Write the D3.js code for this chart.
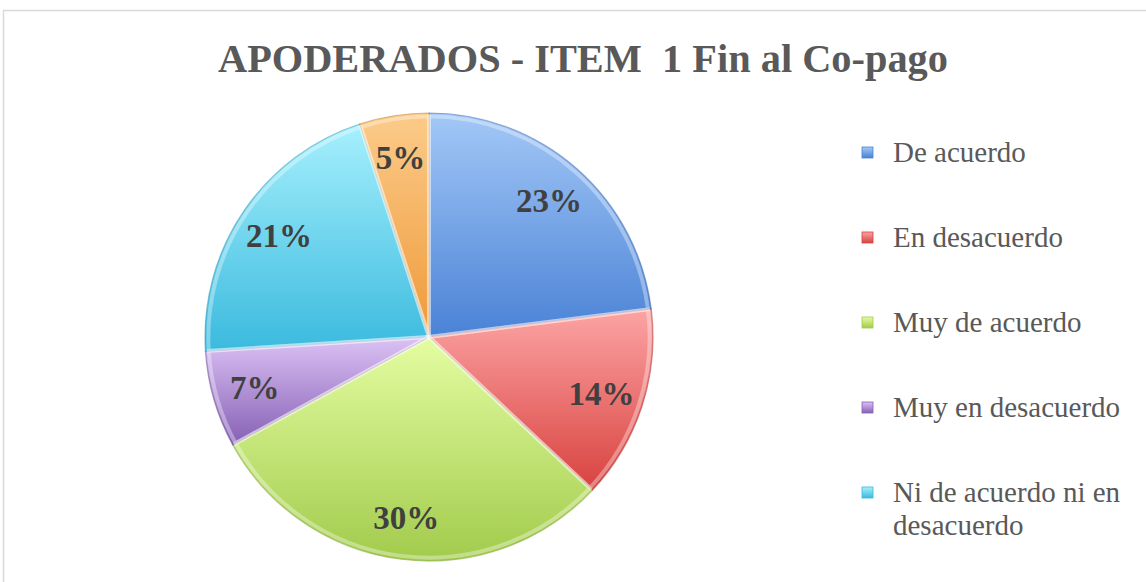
<!DOCTYPE html>
<html>
<head>
<meta charset="utf-8">
<script src="https://cdn.jsdelivr.net/npm/d3@7"></script>
<style>
  html, body { margin: 0; padding: 0; background: #fff; }
  svg { display: block; }
</style>
</head>
<body>
<svg id="chart" width="1146" height="582"></svg>
<script>
const chartTitle = 'APODERADOS - ITEM\u00a0 1 Fin al Co-pago';
const categories = ['De acuerdo', 'En desacuerdo', 'Muy de acuerdo', 'Muy en desacuerdo', 'Ni de acuerdo ni en desacuerdo', 'No responde'];
const percents = [23, 14, 30, 7, 21, 5];
const legendLines = [['De acuerdo'], ['En desacuerdo'], ['Muy de acuerdo'], ['Muy en desacuerdo'], ['Ni de acuerdo ni en', 'desacuerdo'], ['No responde']];
const lightColors = ['#a3c8f7', '#fca4a4', '#e4fda2', '#dcc2f5', '#a6f0fd', '#fccb8a'];
const darkColors = ['#4a82d6', '#d8423f', '#a2cb4c', '#8660b5', '#3bbade', '#ee9a3a'];

const width = 1146, height = 582;
const cx = 429, cy = 337, radius = 224;

const svg = d3.select('#chart');
const data = categories.map((c, i) => ({ name: c, value: percents[i], i }));

// chart frame (cropped by the picture)
svg.append('path')
  .attr('d', `M3.5,${height} V10.5 H${width}`)
  .attr('fill', 'none')
  .attr('stroke', '#d9d9d9')
  .attr('stroke-width', 1.5);

svg.append('text')
  .attr('x', 583)
  .attr('y', 72)
  .attr('text-anchor', 'middle')
  .attr('font-family', 'Liberation Serif, serif')
  .attr('font-weight', 'bold')
  .attr('font-size', 40)
  .attr('fill', '#595959')
  .attr('textLength', 730)
  .attr('lengthAdjust', 'spacingAndGlyphs')
  .text(chartTitle);

const defs = svg.append('defs');
data.forEach(d => {
  const g = defs.append('linearGradient')
    .attr('id', 'grad' + d.i)
    .attr('x1', 0).attr('y1', 0).attr('x2', 0).attr('y2', 1);
  g.append('stop').attr('offset', '0%').attr('stop-color', lightColors[d.i]);
  g.append('stop').attr('offset', '100%').attr('stop-color', darkColors[d.i]);
});

const pie = d3.pie().sort(null).value(d => d.value);
const arc = d3.arc().innerRadius(0).outerRadius(radius);
const labelArc = d3.arc().innerRadius(radius * 0.81).outerRadius(radius * 0.81);
const arcs = pie(data);

const g = svg.append('g').attr('transform', `translate(${cx},${cy})`);

g.selectAll('path.slice')
  .data(arcs)
  .enter()
  .append('path')
  .attr('class', 'slice')
  .attr('d', arc)
  .attr('fill', d => `url(#grad${d.data.i})`)
  .attr('stroke', d => d3.color(darkColors[d.data.i]).darker(0.6))
  .attr('stroke-opacity', 0.5)
  .attr('stroke-width', 1.2);

// soft bevel on slice edges
g.selectAll('path.bevel')
  .data(arcs)
  .enter()
  .append('path')
  .attr('class', 'bevel')
  .attr('d', arc)
  .attr('fill', 'none')
  .attr('stroke', '#ffffff')
  .attr('stroke-opacity', 0.35)
  .attr('stroke-width', 4)
  .attr('transform', 'scale(0.985)');

g.selectAll('text.pct')
  .data(arcs)
  .enter()
  .append('text')
  .attr('class', 'pct')
  .attr('transform', d => `translate(${labelArc.centroid(d)})`)
  .attr('text-anchor', 'middle')
  .attr('dy', '0.35em')
  .attr('font-family', 'Liberation Serif, serif')
  .attr('font-weight', 'bold')
  .attr('font-size', 33)
  .attr('fill', '#404040')
  .text(d => d.data.value + '%');

// legend: the last entry falls below the visible area, as in the picture
const legendY = d3.scaleLinear().domain([0, 1]).range([153, 238]);
const lg = svg.append('g');
data.forEach(d => {
  const extra = d.i > 4 ? 33 : 0;
  const y = legendY(d.i) + extra;
  if (y > height - 20) return;
  lg.append('rect')
    .attr('x', 862).attr('y', y - 6)
    .attr('width', 11).attr('height', 11)
    .attr('fill', `url(#grad${d.i})`)
    .attr('stroke', darkColors[d.i])
    .attr('stroke-width', 0.8);
  const t = lg.append('text')
    .attr('x', 893).attr('y', y + 9)
    .attr('font-family', 'Liberation Serif, serif')
    .attr('font-size', 29)
    .attr('fill', '#595959');
  legendLines[d.i].forEach((line, k) => {
    t.append('tspan').attr('x', 893).attr('dy', k === 0 ? 0 : 33).text(line);
  });
});
</script>
</body>
</html>
